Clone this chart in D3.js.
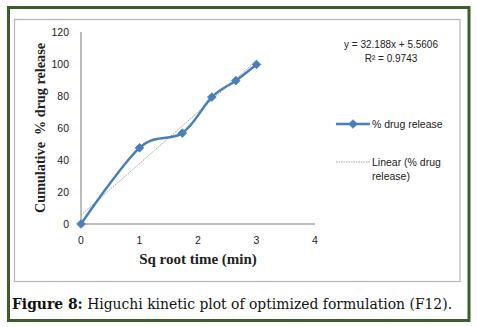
<!DOCTYPE html>
<html>
<head>
<meta charset="utf-8">
<script src="https://cdn.jsdelivr.net/npm/d3@7/dist/d3.min.js"></script>
<style>
html,body{margin:0;padding:0;background:#fff;}
svg{display:block;}
</style>
</head>
<body>
<svg id="chart" width="477" height="327"></svg>
<script>
// ---- data ----
const sqrtTime = [0, 1, 1.732, 2.236, 2.646, 3];
const drugRelease = [0, 47.6, 56.8, 79.3, 89.6, 99.7];
const xTicks = [0, 1, 2, 3, 4];
const yTicks = [0, 20, 40, 60, 80, 100, 120];
const slope = 32.188, intercept = 5.5606;
const equationText = "y = 32.188x + 5.5606";
const r2Text = "R² = 0.9743";
const seriesName = "% drug release";
const trendName = ["Linear (% drug", "release)"];
const xTitle = "Sq root time (min)";
const yTitle = "Cumulative  % drug release";
const captionBold = "Figure 8:";
const captionText = " Higuchi kinetic plot of optimized formulation (F12).";

const svg = d3.select("#chart");
const blue = "#4a7ebb";
const axisGray = "#a6a6a6";
const tickFont = "'Liberation Sans', Arial, sans-serif";
const serif = "'Liberation Serif', 'Times New Roman', serif";

// outer green frame
svg.append("rect").attr("x", 8.5).attr("y", 7.5).attr("width", 460.5).attr("height", 313)
  .attr("fill", "#fff").attr("stroke", "#3b5e2b").attr("stroke-width", 3);
// inner chart box
svg.append("rect").attr("x", 14.5).attr("y", 19.5).attr("width", 445.5).attr("height", 262)
  .attr("fill", "#fff").attr("stroke", "#b4b4b4").attr("stroke-width", 1.2);

const x = d3.scaleLinear().domain([0, 4]).range([81, 315]);
const y = d3.scaleLinear().domain([0, 120]).range([224, 32]);

// axes lines
svg.append("line").attr("x1", x(0)).attr("x2", x(0)).attr("y1", y(120)).attr("y2", y(0))
  .attr("stroke", axisGray).attr("stroke-width", 1.5);
svg.append("line").attr("x1", x(0)).attr("x2", x(4)).attr("y1", y(0)).attr("y2", y(0))
  .attr("stroke", axisGray).attr("stroke-width", 1.5);

// tick labels
svg.append("g").selectAll("text").data(yTicks).join("text")
  .attr("x", 69).attr("y", d => y(d) + 3.5).attr("text-anchor", "end")
  .attr("font-family", tickFont).attr("font-size", 10.5).attr("fill", "#222")
  .text(d => d);
svg.append("g").selectAll("text").data(xTicks).join("text")
  .attr("x", d => x(d)).attr("y", 244).attr("text-anchor", "middle")
  .attr("font-family", tickFont).attr("font-size", 10.5).attr("fill", "#222")
  .text(d => d);

// axis titles
svg.append("text").attr("x", 198).attr("y", 264).attr("text-anchor", "middle")
  .attr("font-family", serif).attr("font-weight", "bold").attr("font-size", 15).attr("fill", "#222")
  .text(xTitle);
svg.append("text").attr("transform", "translate(45,128) rotate(-90)").attr("text-anchor", "middle")
  .attr("font-family", serif).attr("font-weight", "bold").attr("font-size", 14.2).attr("fill", "#222")
  .attr("xml:space", "preserve").style("white-space", "pre")
  .text(yTitle);

// trendline
svg.append("line").attr("x1", x(0)).attr("y1", y(intercept))
  .attr("x2", x(3)).attr("y2", y(slope * 3 + intercept))
  .attr("stroke", "#999").attr("stroke-width", 0.9).attr("stroke-dasharray", "1.5,1");

// series line
const pts = sqrtTime.map((v, i) => [v, drugRelease[i]]);
const line = d3.line().x(d => x(d[0])).y(d => y(d[1])).curve(d3.curveCardinal.tension(0));
svg.append("path").attr("d", line(pts)).attr("fill", "none")
  .attr("stroke", blue).attr("stroke-width", 2.5);

const diamond = d3.symbol().type(d3.symbolDiamond2).size(48);
svg.append("g").selectAll("path").data(pts).join("path")
  .attr("transform", d => `translate(${x(d[0])},${y(d[1])})`)
  .attr("d", diamond).attr("fill", blue).attr("stroke", blue).attr("stroke-width", 0.8);

// equation
svg.append("text").attr("x", 391).attr("y", 48).attr("text-anchor", "middle")
  .attr("font-family", tickFont).attr("font-size", 10).attr("fill", "#222").text(equationText);
svg.append("text").attr("x", 391).attr("y", 62).attr("text-anchor", "middle")
  .attr("font-family", tickFont).attr("font-size", 10).attr("fill", "#222").text(r2Text);

// legend
svg.append("line").attr("x1", 336).attr("x2", 370).attr("y1", 124).attr("y2", 124)
  .attr("stroke", blue).attr("stroke-width", 2.5);
svg.append("path").attr("transform", "translate(353,124)").attr("d", diamond)
  .attr("fill", blue).attr("stroke", blue).attr("stroke-width", 0.8);
svg.append("text").attr("x", 372).attr("y", 128)
  .attr("font-family", tickFont).attr("font-size", 10.5).attr("fill", "#222").text(seriesName);
svg.append("line").attr("x1", 336).attr("x2", 370).attr("y1", 162).attr("y2", 162)
  .attr("stroke", "#999").attr("stroke-width", 0.9).attr("stroke-dasharray", "1.5,1");
svg.append("g").selectAll("text").data(trendName).join("text")
  .attr("x", 372).attr("y", (d, i) => 166 + i * 14)
  .attr("font-family", tickFont).attr("font-size", 10.5).attr("fill", "#222").text(d => d);

// caption
const cap = svg.append("text").attr("x", 12).attr("y", 309)
  .attr("font-family", "'DejaVu Serif', Georgia, serif").attr("font-size", 13.9).attr("fill", "#111");
cap.append("tspan").attr("font-weight", "bold").text(captionBold);
cap.append("tspan").attr("xml:space", "preserve").style("white-space", "pre").text(captionText);
</script>
</body>
</html>
